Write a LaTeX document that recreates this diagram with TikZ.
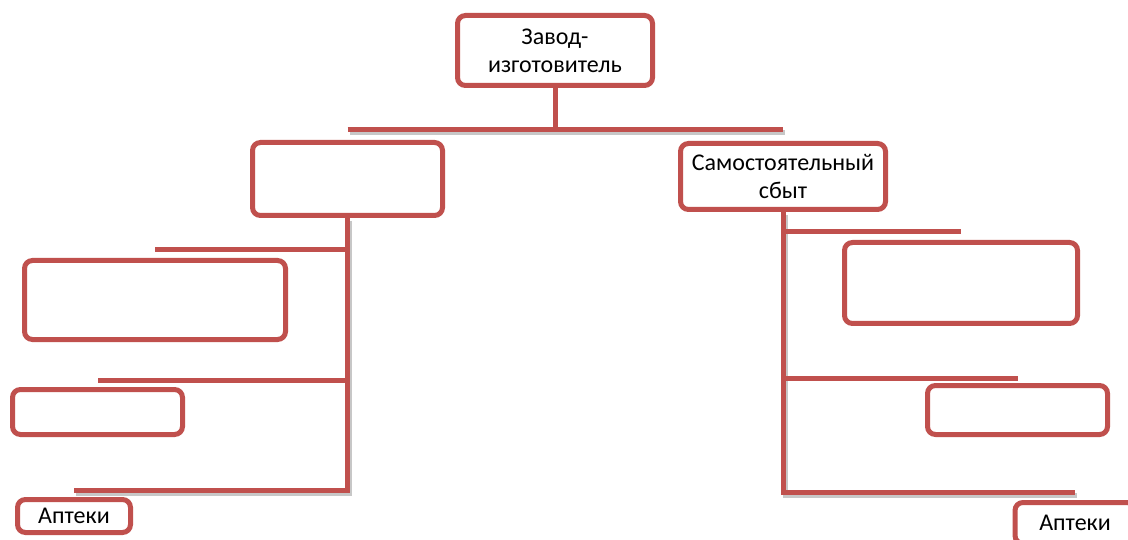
\documentclass[tikz,border=0pt]{standalone}
\usepackage{fontspec}
\setmainfont{Carlito}
\usetikzlibrary{positioning,calc}
\definecolor{boxred}{RGB}{192,80,77}
\tikzset{
	blok/.style={draw=boxred, line width=5pt, rounded corners=8pt, fill=white,
		align=center, inner sep=2pt, font=\fontsize{24}{28}\selectfont,
		preaction={draw=white, line width=10pt}},
	veza/.style={draw=boxred, line width=5pt},
	sjena/.style={draw=black!22, line width=5pt},
}

\begin{document}
\begin{tikzpicture}[x=1pt, y=-1pt]
	\useasboundingbox (0,0) rectangle (1128,540);

	%vrh
	\node[blok, minimum width=195pt, minimum height=70pt] (zavod) at (555,50.5) {Завод-\\изготовитель};
	\coordinate (bus) at (555,130);

	%druga razina
	\node[blok, minimum width=190pt, minimum height=73pt] (posr) at (347.5,179) {};
	\node[blok, minimum width=205pt, minimum height=66pt] (sam) at (783,176.5) {Самостоятельный\\сбыт};

	%lijevo
	\node[blok, minimum width=261pt, minimum height=79pt] (l1) at (155,300) {};
	\node[blok, minimum width=170pt, minimum height=45pt] (l2) at (97.5,412) {};
	\node[blok, minimum width=113pt, minimum height=33pt] (l3) at (74,516) {Аптеки};

	%desno
	\node[blok, minimum width=233pt, minimum height=81pt] (r1) at (961,283) {};
	\node[blok, minimum width=180pt, minimum height=49pt] (r2) at (1017.5,410) {};
	\node[blok, minimum width=120pt, minimum height=41pt] (r3) at (1075,523) {Аптеки};

	%sjene
	\begin{scope}[transform canvas={shift={(2pt,-3pt)}}]
		\draw[sjena] (posr.center |- bus) -- (sam.center |- bus);
		\draw[sjena] (posr.south) |- ($(l3.north)+(0,-7)$);
		\draw[sjena] (sam.south) |- ($(r3.north)+(0,-8)$);
	\end{scope}

	%veze
	\draw[veza] (zavod.south) -- (bus);
	\draw[veza] (posr.center |- bus) -- (sam.center |- bus);

	\draw[veza] (posr.south) |- ($(l1.north)+(0,-8)$);
	\draw[veza] (posr.south) |- ($(l2.north)+(0,-7)$);
	\draw[veza] (posr.south) |- ($(l3.north)+(0,-7)$);

	\draw[veza] (sam.south) |- ($(r1.north)+(0,-8)$);
	\draw[veza] (sam.south) |- ($(r2.north)+(0,-5)$);
	\draw[veza] (sam.south) |- ($(r3.north)+(0,-8)$);
\end{tikzpicture}
\end{document}
